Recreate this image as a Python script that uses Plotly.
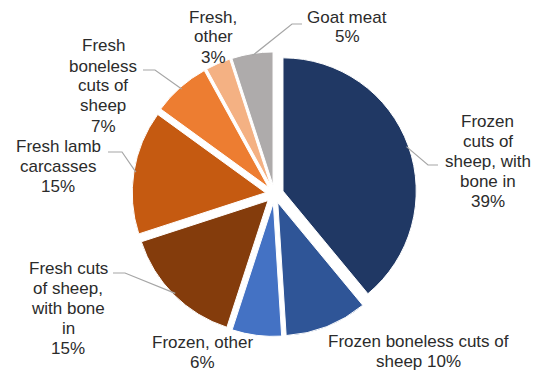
import math
import plotly.graph_objects as go

# Sheep and goat meat product shares (%)
categories = [
    "Frozen cuts of sheep, with bone in",
    "Frozen boneless cuts of sheep",
    "Frozen, other",
    "Fresh cuts of sheep, with bone in",
    "Fresh lamb carcasses",
    "Fresh boneless cuts of sheep",
    "Fresh, other",
    "Goat meat",
]
shares = [39, 10, 6, 15, 15, 7, 3, 5]

# Wrapped label texts; the share is filled in from the data
label_templates = [
    "Frozen<br>cuts of<br>sheep, with<br>bone in<br>{}%",
    "Frozen boneless cuts of<br>sheep {}%",
    "Frozen, other<br>{}%",
    "Fresh cuts<br>of sheep,<br>with bone<br>in<br>{}%",
    "Fresh lamb<br>carcasses<br>{}%",
    "Fresh<br>boneless<br>cuts of<br>sheep<br>{}%",
    "Fresh,<br>other<br>{}%",
    "Goat meat<br>{}%",
]

colors = ["#203864", "#2F5597", "#4472C4", "#843C0C",
          "#C55A11", "#ED7D31", "#F4B183", "#AEABAB"]

W, H = 535, 373
PULL = 0.068
DOMAIN_X = [0.247, 0.779]
DOMAIN_Y = [0.098, 0.861]
FONT_SIZE = 17
LINE_GAP = 20

# Label placement (pixel centres) and optional leader elbow / end points
label_pos = [(488, 161), (418, 351), (202, 352), (68, 308),
             (58, 166), (103, 86), (213, 37), (347, 27)]
leader_elbow = [(428, 165), None, None, (125, 273),
                (122, 152), (155, 70), None, (292, 24)]
leader_end = [(438, 165), None, None, (113, 273),
              (108, 152), (143, 70), None, (302, 24)]


def to_paper(px, py):
    return px / W, 1 - py / H


# Pie geometry in pixels, same sizing rule as plotly
cx = W * (DOMAIN_X[0] + DOMAIN_X[1]) / 2
cy = H * (1 - (DOMAIN_Y[0] + DOMAIN_Y[1]) / 2)
side = min(W * (DOMAIN_X[1] - DOMAIN_X[0]), H * (DOMAIN_Y[1] - DOMAIN_Y[0]))
radius = side / 2 / (1 + PULL)
pull_px = radius * PULL

fig = go.Figure(go.Pie(
    labels=categories,
    values=shares,
    sort=False,
    direction="clockwise",
    rotation=0,
    pull=[PULL] * len(shares),
    marker=dict(colors=colors, line=dict(color="white", width=1)),
    textinfo="none",
    hoverinfo="label+percent",
    domain=dict(x=DOMAIN_X, y=DOMAIN_Y),
    showlegend=False,
))

total = sum(shares)
cum = 0
annotations = []
shapes = []
for i, v in enumerate(shares):
    mid = (cum + v / 2) / total * 2 * math.pi
    cum += v
    dx, dy = math.sin(mid), -math.cos(mid)
    lx, ly = label_pos[i]
    lines = label_templates[i].format(v).split("<br>")
    n = len(lines)
    for k, line in enumerate(lines):
        py = ly + (k - (n - 1) / 2) * LINE_GAP
        ax_, ay_ = to_paper(lx, py)
        annotations.append(dict(
            x=ax_, y=ay_, xref="paper", yref="paper",
            text=line, showarrow=False, align="center",
            xanchor="center", yanchor="middle", borderpad=0,
            font=dict(family="Liberation Sans, Arial, sans-serif",
                      size=FONT_SIZE, color="#2b2b2b"),
        ))
    if leader_elbow[i] is not None:
        r_anchor = radius + pull_px - 2
        sx, sy = cx + r_anchor * dx, cy + r_anchor * dy
        pts = [to_paper(sx, sy), to_paper(*leader_elbow[i]), to_paper(*leader_end[i])]
        path = "M {} {} L {} {} L {} {}".format(*[c for p in pts for c in p])
        shapes.append(dict(type="path", path=path, xref="paper", yref="paper",
                           line=dict(color="#A6A6A6", width=1.2)))

fig.update_layout(
    width=W, height=H,
    margin=dict(l=0, r=0, t=0, b=0),
    paper_bgcolor="white",
    plot_bgcolor="white",
    annotations=annotations,
    shapes=shapes,
)

fig.write_html("out.html")
